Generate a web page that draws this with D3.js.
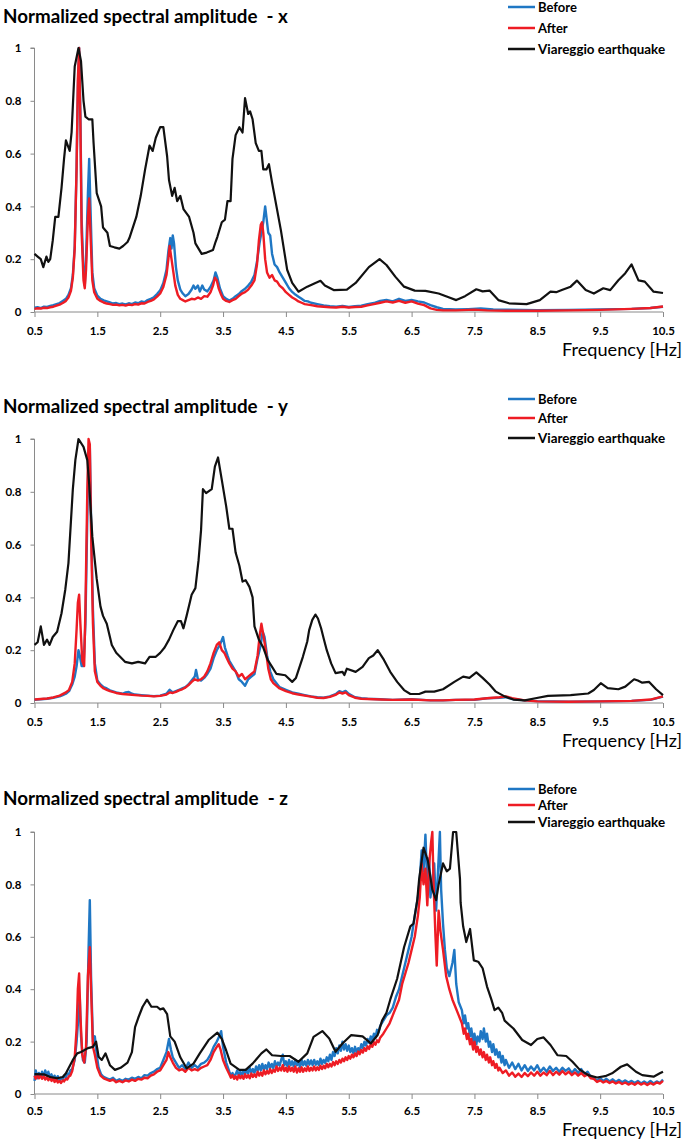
<!DOCTYPE html>
<html><head><meta charset="utf-8">
<script src="https://cdn.jsdelivr.net/npm/d3@7"></script>
<style>
html,body{margin:0;padding:0;background:#fff;}
svg{display:block;font-family:Lato,"Open Sans",sans-serif;}
</style></head>
<body><svg id="c" width="685" height="1143"></svg>
<script>
// ---------- data ----------
const xTickValues = [0.5,1.5,2.5,3.5,4.5,5.5,6.5,7.5,8.5,9.5,10.5];
const yTickValues = [0,0.2,0.4,0.6,0.8,1];
const seriesNames = ["Before","After","Viareggio earthquake"];
const panelTitles = ["Normalized spectral amplitude  - x","Normalized spectral amplitude  - y","Normalized spectral amplitude  - z"];
const axisTitle = "Frequency [Hz]";

const xBefore = [[0.5,0.016],[0.55,0.018],[0.6,0.015],[0.65,0.02],[0.7,0.019],[0.75,0.023],[0.8,0.026],[0.85,0.03],[0.9,0.034],[0.95,0.042],[1.0,0.05],[1.04,0.065],[1.08,0.09],[1.11,0.14],[1.14,0.25],[1.17,0.55],[1.19,0.85],[1.21,1.0],[1.23,0.75],[1.25,0.35],[1.28,0.15],[1.3,0.1],[1.32,0.2],[1.35,0.45],[1.37,0.58],[1.39,0.4],[1.42,0.15],[1.45,0.09],[1.5,0.062],[1.55,0.05],[1.6,0.044],[1.65,0.04],[1.7,0.036],[1.75,0.032],[1.8,0.034],[1.85,0.03],[1.9,0.032],[1.95,0.029],[2.0,0.033],[2.05,0.03],[2.1,0.036],[2.15,0.033],[2.2,0.04],[2.25,0.037],[2.3,0.045],[2.35,0.05],[2.4,0.056],[2.45,0.068],[2.5,0.082],[2.55,0.11],[2.6,0.16],[2.63,0.23],[2.66,0.28],[2.68,0.24],[2.7,0.29],[2.72,0.26],[2.75,0.17],[2.78,0.12],[2.82,0.085],[2.86,0.07],[2.9,0.06],[2.95,0.068],[3.0,0.085],[3.03,0.1],[3.06,0.088],[3.1,0.1],[3.13,0.078],[3.17,0.1],[3.2,0.085],[3.25,0.078],[3.3,0.095],[3.35,0.12],[3.38,0.15],[3.41,0.13],[3.45,0.09],[3.5,0.06],[3.55,0.05],[3.6,0.043],[3.65,0.05],[3.7,0.06],[3.75,0.068],[3.8,0.08],[3.85,0.088],[3.9,0.1],[3.95,0.115],[4.0,0.14],[4.04,0.19],[4.08,0.26],[4.11,0.3],[4.14,0.34],[4.17,0.4],[4.19,0.36],[4.22,0.3],[4.25,0.29],[4.28,0.22],[4.32,0.18],[4.36,0.17],[4.4,0.15],[4.45,0.13],[4.5,0.11],[4.55,0.09],[4.6,0.076],[4.65,0.066],[4.7,0.058],[4.75,0.05],[4.8,0.042],[4.85,0.04],[4.9,0.035],[5.0,0.03],[5.1,0.025],[5.2,0.022],[5.3,0.02],[5.4,0.023],[5.5,0.019],[5.6,0.022],[5.7,0.024],[5.8,0.03],[5.9,0.034],[6.0,0.042],[6.1,0.046],[6.2,0.04],[6.3,0.05],[6.4,0.042],[6.5,0.046],[6.6,0.04],[6.7,0.036],[6.8,0.026],[6.9,0.018],[7.0,0.012],[7.2,0.01],[7.4,0.011],[7.6,0.013],[7.8,0.01],[8.0,0.009],[8.5,0.007],[9.0,0.008],[9.5,0.01],[10.0,0.012],[10.3,0.015],[10.5,0.02]];
const xAfter = [[0.5,0.012],[0.55,0.014],[0.6,0.013],[0.65,0.016],[0.7,0.015],[0.75,0.018],[0.8,0.02],[0.85,0.024],[0.9,0.028],[0.95,0.034],[1.0,0.042],[1.04,0.055],[1.08,0.08],[1.11,0.13],[1.14,0.24],[1.17,0.55],[1.19,0.88],[1.21,1.0],[1.23,0.72],[1.25,0.3],[1.28,0.12],[1.3,0.09],[1.32,0.16],[1.35,0.36],[1.37,0.43],[1.39,0.3],[1.42,0.12],[1.45,0.075],[1.5,0.05],[1.55,0.042],[1.6,0.036],[1.65,0.032],[1.7,0.03],[1.75,0.027],[1.8,0.028],[1.85,0.025],[1.9,0.027],[1.95,0.024],[2.0,0.028],[2.05,0.026],[2.1,0.03],[2.15,0.028],[2.2,0.033],[2.25,0.032],[2.3,0.038],[2.35,0.042],[2.4,0.048],[2.45,0.058],[2.5,0.07],[2.55,0.095],[2.6,0.14],[2.63,0.2],[2.65,0.25],[2.68,0.2],[2.71,0.15],[2.74,0.1],[2.78,0.065],[2.82,0.05],[2.86,0.045],[2.9,0.04],[2.95,0.045],[3.0,0.05],[3.05,0.048],[3.1,0.055],[3.15,0.05],[3.2,0.06],[3.25,0.058],[3.3,0.075],[3.34,0.1],[3.37,0.13],[3.4,0.12],[3.43,0.09],[3.47,0.065],[3.5,0.05],[3.55,0.042],[3.6,0.038],[3.65,0.045],[3.7,0.05],[3.75,0.06],[3.8,0.07],[3.85,0.075],[3.9,0.085],[3.95,0.1],[4.0,0.12],[4.04,0.18],[4.07,0.27],[4.1,0.33],[4.12,0.34],[4.14,0.3],[4.17,0.2],[4.2,0.15],[4.24,0.13],[4.28,0.14],[4.32,0.12],[4.36,0.115],[4.4,0.1],[4.45,0.09],[4.5,0.075],[4.55,0.065],[4.6,0.055],[4.65,0.048],[4.7,0.04],[4.75,0.035],[4.8,0.03],[4.9,0.026],[5.0,0.022],[5.1,0.02],[5.2,0.018],[5.3,0.017],[5.4,0.02],[5.5,0.017],[5.6,0.019],[5.7,0.02],[5.8,0.025],[5.9,0.03],[6.0,0.035],[6.1,0.04],[6.2,0.036],[6.3,0.042],[6.4,0.035],[6.5,0.04],[6.6,0.032],[6.7,0.026],[6.8,0.014],[6.9,0.008],[7.0,0.006],[7.2,0.006],[7.5,0.009],[7.7,0.006],[8.0,0.005],[8.5,0.005],[9.0,0.006],[9.5,0.008],[10.0,0.012],[10.3,0.015],[10.5,0.021]];
const xQuake = [[0.5,0.22],[0.55,0.21],[0.6,0.2],[0.64,0.17],[0.69,0.21],[0.72,0.19],[0.75,0.2],[0.79,0.27],[0.83,0.36],[0.88,0.36],[0.93,0.47],[0.97,0.58],[1.0,0.65],[1.06,0.61],[1.09,0.68],[1.14,0.93],[1.2,1.0],[1.24,0.95],[1.28,0.8],[1.31,0.74],[1.36,0.73],[1.42,0.73],[1.44,0.64],[1.49,0.45],[1.56,0.4],[1.59,0.32],[1.66,0.3],[1.7,0.25],[1.77,0.245],[1.85,0.24],[1.91,0.25],[1.98,0.265],[2.01,0.28],[2.12,0.36],[2.19,0.44],[2.26,0.54],[2.33,0.63],[2.38,0.61],[2.43,0.66],[2.5,0.7],[2.55,0.7],[2.61,0.59],[2.64,0.5],[2.69,0.44],[2.73,0.47],[2.77,0.42],[2.82,0.44],[2.87,0.39],[2.96,0.36],[3.03,0.3],[3.06,0.26],[3.16,0.22],[3.24,0.225],[3.34,0.235],[3.38,0.265],[3.41,0.285],[3.48,0.34],[3.53,0.35],[3.57,0.42],[3.62,0.42],[3.65,0.58],[3.7,0.67],[3.76,0.7],[3.81,0.68],[3.85,0.81],[3.9,0.75],[3.93,0.76],[3.97,0.73],[4.02,0.64],[4.07,0.61],[4.11,0.61],[4.14,0.54],[4.19,0.54],[4.23,0.56],[4.28,0.49],[4.35,0.4],[4.42,0.31],[4.48,0.22],[4.52,0.16],[4.6,0.11],[4.7,0.077],[4.84,0.096],[4.97,0.11],[5.05,0.118],[5.12,0.1],[5.26,0.083],[5.47,0.085],[5.61,0.11],[5.82,0.17],[5.99,0.2],[6.1,0.178],[6.24,0.134],[6.38,0.096],[6.55,0.081],[6.72,0.08],[6.93,0.07],[7.1,0.055],[7.21,0.045],[7.35,0.06],[7.53,0.086],[7.63,0.078],[7.74,0.081],[7.88,0.045],[8.05,0.033],[8.33,0.03],[8.54,0.045],[8.71,0.077],[8.8,0.075],[8.89,0.083],[9.03,0.096],[9.13,0.119],[9.27,0.083],[9.4,0.07],[9.55,0.09],[9.66,0.083],[9.79,0.12],[9.9,0.147],[10.0,0.18],[10.11,0.12],[10.21,0.115],[10.35,0.077],[10.5,0.072]];

const yBefore = [[0.5,0.012],[0.6,0.014],[0.7,0.016],[0.8,0.02],[0.9,0.025],[0.95,0.03],[1.0,0.035],[1.05,0.045],[1.1,0.07],[1.14,0.1],[1.17,0.14],[1.2,0.2],[1.22,0.18],[1.25,0.14],[1.28,0.14],[1.31,0.3],[1.34,0.7],[1.36,0.95],[1.38,0.97],[1.4,0.7],[1.43,0.35],[1.46,0.15],[1.5,0.085],[1.55,0.07],[1.6,0.06],[1.65,0.055],[1.7,0.048],[1.8,0.04],[1.9,0.035],[1.95,0.04],[2.0,0.042],[2.05,0.035],[2.1,0.032],[2.2,0.03],[2.3,0.028],[2.4,0.026],[2.5,0.028],[2.6,0.035],[2.65,0.05],[2.7,0.04],[2.75,0.045],[2.8,0.05],[2.85,0.055],[2.9,0.06],[2.95,0.07],[3.0,0.085],[3.05,0.1],[3.07,0.125],[3.1,0.09],[3.15,0.085],[3.2,0.095],[3.25,0.11],[3.3,0.13],[3.35,0.17],[3.4,0.2],[3.45,0.22],[3.5,0.25],[3.53,0.21],[3.57,0.18],[3.6,0.16],[3.65,0.14],[3.7,0.12],[3.75,0.09],[3.8,0.08],[3.85,0.065],[3.9,0.09],[3.95,0.1],[4.0,0.11],[4.05,0.17],[4.1,0.22],[4.13,0.27],[4.16,0.25],[4.2,0.18],[4.25,0.12],[4.3,0.09],[4.35,0.075],[4.4,0.06],[4.5,0.05],[4.6,0.04],[4.7,0.035],[4.8,0.03],[4.9,0.025],[5.0,0.022],[5.1,0.02],[5.2,0.025],[5.3,0.035],[5.35,0.045],[5.4,0.04],[5.45,0.046],[5.5,0.035],[5.6,0.022],[5.7,0.018],[5.8,0.016],[6.0,0.014],[6.2,0.012],[6.5,0.014],[6.8,0.01],[7.0,0.01],[7.2,0.012],[7.5,0.012],[7.7,0.018],[7.9,0.02],[8.0,0.022],[8.1,0.015],[8.3,0.01],[8.5,0.007],[9.0,0.005],[9.5,0.006],[10.0,0.008],[10.3,0.012],[10.5,0.024]];
const yAfter = [[0.5,0.013],[0.6,0.015],[0.7,0.017],[0.8,0.021],[0.9,0.028],[1.0,0.04],[1.05,0.05],[1.1,0.08],[1.14,0.15],[1.17,0.28],[1.19,0.38],[1.21,0.41],[1.23,0.3],[1.26,0.16],[1.29,0.14],[1.31,0.35],[1.34,0.8],[1.36,1.0],[1.38,0.98],[1.4,0.65],[1.43,0.3],[1.46,0.12],[1.5,0.08],[1.55,0.065],[1.6,0.055],[1.65,0.05],[1.7,0.045],[1.8,0.038],[1.9,0.034],[2.0,0.032],[2.1,0.03],[2.2,0.028],[2.3,0.027],[2.4,0.025],[2.5,0.027],[2.6,0.032],[2.65,0.04],[2.7,0.038],[2.75,0.042],[2.8,0.048],[2.85,0.052],[2.9,0.058],[2.95,0.068],[3.0,0.08],[3.05,0.09],[3.1,0.085],[3.15,0.09],[3.2,0.1],[3.25,0.12],[3.3,0.15],[3.35,0.19],[3.4,0.22],[3.44,0.23],[3.48,0.2],[3.52,0.19],[3.56,0.17],[3.6,0.15],[3.65,0.13],[3.7,0.12],[3.75,0.1],[3.8,0.11],[3.85,0.09],[3.9,0.1],[3.95,0.11],[4.0,0.12],[4.05,0.18],[4.08,0.25],[4.11,0.3],[4.14,0.26],[4.18,0.2],[4.22,0.13],[4.26,0.09],[4.3,0.075],[4.35,0.065],[4.4,0.055],[4.5,0.045],[4.6,0.037],[4.7,0.032],[4.8,0.028],[4.9,0.024],[5.0,0.02],[5.1,0.019],[5.2,0.023],[5.3,0.032],[5.35,0.04],[5.4,0.036],[5.45,0.04],[5.5,0.03],[5.6,0.02],[5.7,0.016],[5.8,0.015],[6.0,0.013],[6.2,0.012],[6.5,0.013],[6.8,0.01],[7.0,0.01],[7.2,0.012],[7.5,0.013],[7.7,0.018],[7.9,0.022],[8.0,0.025],[8.1,0.018],[8.3,0.01],[8.5,0.006],[9.0,0.005],[9.5,0.006],[10.0,0.008],[10.3,0.013],[10.5,0.025]];
const yQuake = [[0.5,0.22],[0.55,0.23],[0.6,0.29],[0.65,0.22],[0.7,0.24],[0.74,0.22],[0.79,0.25],[0.86,0.27],[0.93,0.34],[0.99,0.43],[1.04,0.53],[1.08,0.69],[1.11,0.81],[1.15,0.92],[1.2,1.0],[1.28,0.97],[1.34,0.92],[1.37,0.83],[1.42,0.63],[1.49,0.47],[1.55,0.365],[1.59,0.33],[1.65,0.3],[1.7,0.25],[1.73,0.22],[1.8,0.19],[1.94,0.156],[2.05,0.15],[2.15,0.156],[2.26,0.15],[2.33,0.175],[2.43,0.175],[2.5,0.19],[2.57,0.21],[2.64,0.24],[2.71,0.277],[2.78,0.31],[2.83,0.31],[2.87,0.283],[2.92,0.33],[2.97,0.38],[3.0,0.41],[3.06,0.435],[3.11,0.54],[3.15,0.655],[3.18,0.81],[3.23,0.795],[3.32,0.81],[3.37,0.895],[3.42,0.93],[3.48,0.845],[3.55,0.745],[3.6,0.66],[3.65,0.66],[3.7,0.57],[3.76,0.52],[3.81,0.46],[3.86,0.465],[3.92,0.44],[3.97,0.4],[4.0,0.29],[4.07,0.24],[4.14,0.21],[4.21,0.163],[4.28,0.137],[4.35,0.11],[4.49,0.105],[4.6,0.08],[4.66,0.095],[4.77,0.175],[4.84,0.233],[4.87,0.276],[4.92,0.315],[4.97,0.335],[5.01,0.32],[5.06,0.283],[5.1,0.245],[5.15,0.2],[5.22,0.15],[5.29,0.113],[5.4,0.118],[5.43,0.106],[5.47,0.13],[5.61,0.118],[5.72,0.137],[5.82,0.17],[5.89,0.18],[5.96,0.2],[6.06,0.163],[6.16,0.118],[6.27,0.08],[6.38,0.049],[6.48,0.034],[6.62,0.034],[6.72,0.043],[6.86,0.043],[7.0,0.052],[7.18,0.08],[7.32,0.1],[7.42,0.095],[7.53,0.116],[7.63,0.095],[7.74,0.07],[7.84,0.043],[7.98,0.025],[8.12,0.013],[8.3,0.01],[8.47,0.018],[8.67,0.027],[9.03,0.03],[9.31,0.036],[9.4,0.049],[9.51,0.075],[9.62,0.056],[9.79,0.052],[9.9,0.062],[10.04,0.09],[10.1,0.085],[10.17,0.077],[10.28,0.08],[10.39,0.052],[10.5,0.03]];

const zBefore = [[0.5,0.05],[0.52,0.09],[0.55,0.06],[0.57,0.08],[0.6,0.065],[0.62,0.085],[0.65,0.065],[0.67,0.09],[0.7,0.068],[0.72,0.085],[0.75,0.06],[0.77,0.075],[0.8,0.055],[0.82,0.07],[0.85,0.055],[0.87,0.068],[0.9,0.05],[0.92,0.062],[0.95,0.055],[0.97,0.07],[1.0,0.062],[1.02,0.078],[1.05,0.075],[1.07,0.09],[1.1,0.095],[1.14,0.13],[1.17,0.2],[1.2,0.3],[1.22,0.37],[1.24,0.22],[1.27,0.13],[1.3,0.12],[1.33,0.2],[1.36,0.55],[1.38,0.74],[1.4,0.45],[1.43,0.2],[1.46,0.22],[1.49,0.15],[1.52,0.1],[1.56,0.075],[1.6,0.065],[1.65,0.06],[1.7,0.055],[1.75,0.062],[1.8,0.05],[1.85,0.056],[1.9,0.05],[1.95,0.058],[2.0,0.055],[2.05,0.062],[2.1,0.058],[2.15,0.065],[2.2,0.06],[2.25,0.072],[2.3,0.07],[2.35,0.08],[2.4,0.085],[2.45,0.095],[2.5,0.1],[2.55,0.13],[2.6,0.16],[2.64,0.21],[2.67,0.17],[2.7,0.14],[2.75,0.12],[2.8,0.1],[2.85,0.11],[2.9,0.095],[2.95,0.12],[3.0,0.1],[3.05,0.11],[3.1,0.1],[3.15,0.115],[3.2,0.12],[3.25,0.13],[3.3,0.15],[3.35,0.18],[3.4,0.2],[3.44,0.22],[3.47,0.24],[3.5,0.18],[3.55,0.12],[3.6,0.085],[3.625,0.07],[3.65,0.08],[3.675,0.065],[3.7,0.075],[3.725,0.09],[3.75,0.07],[3.775,0.085],[3.8,0.068],[3.825,0.09],[3.85,0.075],[3.875,0.095],[3.9,0.078],[3.925,0.1],[3.95,0.082],[3.975,0.095],[4.0,0.08],[4.025,0.105],[4.05,0.088],[4.075,0.11],[4.1,0.09],[4.125,0.115],[4.15,0.092],[4.175,0.11],[4.2,0.095],[4.225,0.12],[4.25,0.1],[4.275,0.115],[4.3,0.098],[4.325,0.125],[4.35,0.105],[4.375,0.12],[4.4,0.108],[4.425,0.13],[4.45,0.15],[4.475,0.11],[4.5,0.125],[4.525,0.105],[4.55,0.13],[4.575,0.11],[4.6,0.125],[4.625,0.105],[4.65,0.13],[4.675,0.11],[4.7,0.125],[4.725,0.1],[4.75,0.13],[4.775,0.11],[4.8,0.125],[4.825,0.108],[4.85,0.13],[4.875,0.112],[4.9,0.128],[4.925,0.11],[4.95,0.13],[4.975,0.112],[5.0,0.125],[5.025,0.11],[5.05,0.135],[5.075,0.115],[5.1,0.13],[5.125,0.118],[5.15,0.14],[5.175,0.125],[5.2,0.15],[5.225,0.13],[5.25,0.16],[5.275,0.145],[5.3,0.175],[5.325,0.155],[5.35,0.185],[5.375,0.165],[5.4,0.2],[5.425,0.17],[5.45,0.19],[5.475,0.165],[5.5,0.185],[5.525,0.16],[5.55,0.175],[5.575,0.155],[5.6,0.18],[5.625,0.16],[5.65,0.175],[5.675,0.165],[5.7,0.19],[5.725,0.175],[5.75,0.2],[5.775,0.185],[5.8,0.21],[5.825,0.195],[5.85,0.22],[5.875,0.205],[5.9,0.23],[5.925,0.215],[5.95,0.245],[5.975,0.235],[6.0,0.26],[6.05,0.28],[6.1,0.3],[6.15,0.31],[6.2,0.33],[6.25,0.37],[6.3,0.4],[6.35,0.45],[6.4,0.5],[6.45,0.55],[6.5,0.6],[6.55,0.68],[6.6,0.75],[6.63,0.82],[6.66,0.93],[6.69,0.85],[6.72,0.99],[6.75,0.8],[6.78,0.9],[6.8,0.75],[6.83,0.82],[6.86,0.88],[6.89,0.7],[6.92,0.85],[6.95,1.0],[6.97,0.78],[7.0,0.65],[7.03,0.55],[7.06,0.48],[7.1,0.45],[7.15,0.5],[7.18,0.55],[7.21,0.42],[7.25,0.35],[7.3,0.32],[7.33,0.27],[7.35,0.3],[7.38,0.25],[7.4,0.27],[7.43,0.22],[7.45,0.25],[7.48,0.2],[7.5,0.23],[7.53,0.19],[7.55,0.22],[7.58,0.2],[7.6,0.24],[7.63,0.21],[7.65,0.25],[7.68,0.2],[7.7,0.23],[7.73,0.18],[7.75,0.2],[7.78,0.16],[7.8,0.19],[7.83,0.15],[7.85,0.17],[7.88,0.14],[7.9,0.16],[7.93,0.12],[7.95,0.145],[7.98,0.11],[8.0,0.13],[8.05,0.1],[8.1,0.12],[8.15,0.095],[8.2,0.115],[8.25,0.09],[8.3,0.11],[8.35,0.088],[8.4,0.105],[8.45,0.09],[8.5,0.11],[8.55,0.085],[8.6,0.1],[8.65,0.085],[8.7,0.105],[8.75,0.088],[8.8,0.1],[8.85,0.085],[8.9,0.1],[8.95,0.088],[9.0,0.098],[9.05,0.08],[9.1,0.095],[9.15,0.08],[9.2,0.095],[9.25,0.075],[9.3,0.085],[9.35,0.065],[9.4,0.06],[9.45,0.052],[9.5,0.06],[9.55,0.05],[9.6,0.058],[9.65,0.048],[9.7,0.056],[9.75,0.046],[9.8,0.054],[9.85,0.045],[9.9,0.052],[9.95,0.044],[10.0,0.05],[10.05,0.042],[10.1,0.05],[10.15,0.04],[10.2,0.048],[10.25,0.04],[10.3,0.05],[10.35,0.04],[10.4,0.048],[10.45,0.042],[10.5,0.055]];
const zAfter = [[0.5,0.07],[0.52,0.058],[0.55,0.072],[0.57,0.06],[0.6,0.07],[0.62,0.058],[0.65,0.068],[0.67,0.055],[0.7,0.065],[0.72,0.052],[0.75,0.062],[0.77,0.05],[0.8,0.058],[0.82,0.046],[0.85,0.055],[0.87,0.044],[0.9,0.05],[0.92,0.042],[0.95,0.052],[0.97,0.048],[1.0,0.058],[1.02,0.055],[1.05,0.068],[1.07,0.07],[1.1,0.088],[1.14,0.14],[1.17,0.25],[1.19,0.4],[1.21,0.46],[1.23,0.3],[1.26,0.15],[1.29,0.12],[1.32,0.18],[1.35,0.45],[1.38,0.56],[1.4,0.4],[1.43,0.18],[1.46,0.15],[1.5,0.1],[1.55,0.07],[1.6,0.06],[1.65,0.055],[1.7,0.05],[1.75,0.055],[1.8,0.045],[1.85,0.05],[1.9,0.045],[1.95,0.052],[2.0,0.048],[2.05,0.055],[2.1,0.05],[2.15,0.058],[2.2,0.055],[2.25,0.062],[2.3,0.06],[2.35,0.07],[2.4,0.075],[2.45,0.085],[2.5,0.09],[2.55,0.11],[2.6,0.13],[2.63,0.16],[2.66,0.14],[2.7,0.12],[2.75,0.1],[2.8,0.09],[2.85,0.095],[2.9,0.085],[2.95,0.1],[3.0,0.09],[3.05,0.095],[3.1,0.09],[3.15,0.1],[3.2,0.105],[3.25,0.11],[3.3,0.13],[3.35,0.16],[3.4,0.18],[3.43,0.19],[3.46,0.17],[3.5,0.13],[3.55,0.1],[3.6,0.075],[3.625,0.062],[3.65,0.072],[3.675,0.058],[3.7,0.068],[3.725,0.055],[3.75,0.072],[3.775,0.06],[3.8,0.07],[3.825,0.058],[3.85,0.075],[3.875,0.062],[3.9,0.072],[3.925,0.06],[3.95,0.078],[3.975,0.065],[4.0,0.075],[4.025,0.065],[4.05,0.085],[4.075,0.07],[4.1,0.082],[4.125,0.07],[4.15,0.09],[4.175,0.075],[4.2,0.088],[4.225,0.078],[4.25,0.095],[4.275,0.08],[4.3,0.092],[4.325,0.085],[4.35,0.105],[4.375,0.088],[4.4,0.1],[4.425,0.09],[4.45,0.11],[4.475,0.088],[4.5,0.1],[4.525,0.085],[4.55,0.105],[4.575,0.088],[4.6,0.1],[4.625,0.085],[4.65,0.105],[4.675,0.082],[4.7,0.098],[4.725,0.085],[4.75,0.102],[4.775,0.085],[4.8,0.098],[4.825,0.088],[4.85,0.105],[4.875,0.088],[4.9,0.1],[4.925,0.09],[4.95,0.105],[4.975,0.09],[5.0,0.102],[5.025,0.092],[5.05,0.108],[5.075,0.095],[5.1,0.108],[5.125,0.098],[5.15,0.115],[5.175,0.102],[5.2,0.115],[5.225,0.105],[5.25,0.122],[5.275,0.11],[5.3,0.125],[5.325,0.115],[5.35,0.13],[5.375,0.12],[5.4,0.135],[5.425,0.125],[5.45,0.14],[5.475,0.13],[5.5,0.145],[5.525,0.135],[5.55,0.15],[5.575,0.14],[5.6,0.155],[5.625,0.145],[5.65,0.162],[5.675,0.152],[5.7,0.168],[5.725,0.158],[5.75,0.175],[5.775,0.165],[5.8,0.182],[5.825,0.172],[5.85,0.19],[5.875,0.18],[5.9,0.198],[5.925,0.188],[5.95,0.205],[5.975,0.198],[6.0,0.215],[6.05,0.23],[6.1,0.25],[6.15,0.27],[6.2,0.3],[6.25,0.33],[6.3,0.36],[6.35,0.42],[6.4,0.46],[6.45,0.5],[6.5,0.55],[6.55,0.6],[6.6,0.68],[6.63,0.75],[6.66,0.88],[6.69,0.8],[6.72,0.86],[6.75,0.72],[6.78,0.88],[6.81,0.96],[6.83,1.0],[6.85,0.8],[6.88,0.6],[6.9,0.49],[6.93,0.7],[6.96,0.62],[7.0,0.55],[7.05,0.45],[7.1,0.4],[7.15,0.36],[7.2,0.33],[7.25,0.3],[7.3,0.27],[7.33,0.23],[7.35,0.25],[7.38,0.21],[7.4,0.23],[7.43,0.19],[7.45,0.21],[7.48,0.17],[7.5,0.2],[7.53,0.16],[7.55,0.18],[7.58,0.15],[7.6,0.17],[7.63,0.14],[7.65,0.16],[7.68,0.13],[7.7,0.15],[7.73,0.12],[7.75,0.14],[7.78,0.11],[7.8,0.125],[7.83,0.1],[7.85,0.115],[7.88,0.09],[7.9,0.1],[7.95,0.08],[8.0,0.09],[8.05,0.07],[8.1,0.082],[8.15,0.066],[8.2,0.078],[8.25,0.065],[8.3,0.08],[8.35,0.068],[8.4,0.082],[8.45,0.07],[8.5,0.085],[8.55,0.07],[8.6,0.082],[8.65,0.072],[8.7,0.088],[8.75,0.072],[8.8,0.085],[8.85,0.074],[8.9,0.088],[8.95,0.075],[9.0,0.085],[9.05,0.072],[9.1,0.082],[9.15,0.07],[9.2,0.08],[9.25,0.068],[9.3,0.075],[9.35,0.06],[9.4,0.058],[9.45,0.046],[9.5,0.052],[9.55,0.044],[9.6,0.05],[9.65,0.042],[9.7,0.048],[9.75,0.04],[9.8,0.046],[9.85,0.038],[9.9,0.044],[9.95,0.036],[10.0,0.042],[10.05,0.035],[10.1,0.044],[10.15,0.036],[10.2,0.042],[10.25,0.034],[10.3,0.042],[10.35,0.036],[10.4,0.044],[10.45,0.04],[10.5,0.05]];
const zQuake = [[0.5,0.076],[0.65,0.075],[0.75,0.065],[0.86,0.06],[0.95,0.065],[1.0,0.079],[1.11,0.13],[1.18,0.155],[1.24,0.16],[1.35,0.175],[1.43,0.18],[1.48,0.2],[1.52,0.142],[1.57,0.13],[1.63,0.155],[1.7,0.11],[1.78,0.092],[1.87,0.1],[1.98,0.12],[2.05,0.16],[2.1,0.255],[2.15,0.29],[2.22,0.333],[2.29,0.36],[2.36,0.333],[2.45,0.333],[2.5,0.323],[2.55,0.327],[2.61,0.305],[2.66,0.22],[2.73,0.2],[2.82,0.14],[2.92,0.098],[3.03,0.116],[3.13,0.155],[3.27,0.206],[3.41,0.234],[3.48,0.21],[3.55,0.166],[3.62,0.116],[3.76,0.092],[3.86,0.092],[3.97,0.116],[4.11,0.155],[4.19,0.17],[4.28,0.148],[4.42,0.145],[4.56,0.145],[4.7,0.123],[4.84,0.155],[4.94,0.218],[5.08,0.24],[5.19,0.212],[5.29,0.161],[5.4,0.193],[5.54,0.225],[5.72,0.22],[5.85,0.193],[5.96,0.225],[6.03,0.28],[6.1,0.31],[6.16,0.36],[6.27,0.44],[6.38,0.56],[6.48,0.64],[6.53,0.65],[6.59,0.74],[6.62,0.82],[6.69,0.94],[6.76,0.89],[6.83,0.78],[6.89,0.74],[6.93,0.8],[7.0,0.88],[7.06,0.85],[7.11,0.86],[7.16,1.0],[7.21,1.0],[7.27,0.82],[7.28,0.73],[7.32,0.64],[7.37,0.58],[7.43,0.63],[7.49,0.51],[7.56,0.505],[7.63,0.48],[7.7,0.41],[7.77,0.36],[7.82,0.32],[7.88,0.33],[7.94,0.31],[7.98,0.28],[8.12,0.25],[8.26,0.206],[8.4,0.187],[8.5,0.21],[8.6,0.216],[8.71,0.187],[8.82,0.148],[8.96,0.145],[9.06,0.123],[9.17,0.094],[9.31,0.072],[9.45,0.063],[9.58,0.068],[9.69,0.079],[9.83,0.104],[9.93,0.113],[10.07,0.085],[10.17,0.072],[10.35,0.066],[10.45,0.079],[10.5,0.085]];

// ---------- layout ----------
const colors = ["#1f77c4","#ee1c24","#111111"];
const widths = [2.4,2.4,2.2];
const panels = [
  {title:panelTitles[0], series:[xBefore,xAfter,xQuake], top:48, bottom:312, titleY:16, legY:[7,28,49], labY:331, freqY:350},
  {title:panelTitles[1], series:[yBefore,yAfter,yQuake], top:439, bottom:703, titleY:406, legY:[399,418,438], labY:722, freqY:741},
  {title:panelTitles[2], series:[zBefore,zAfter,zQuake], top:832, bottom:1094, titleY:798, legY:[789,805,822], labY:1111, freqY:1130}
];
const left = 34.5, right = 663;
const svg = d3.select("#c");
const axisColor = "#8a8a8a";

function fitText(sel, targetW){
  const w = sel.node().getComputedTextLength();
  const fs = parseFloat(sel.attr("font-size"));
  sel.attr("font-size", (fs*targetW/w).toFixed(2));
}

panels.forEach(p=>{
  const g = svg.append("g");
  const x = d3.scaleLinear().domain([0.5,10.5]).range([left,right]);
  const y = d3.scaleLinear().domain([0,1]).range([p.bottom,p.top]);

  const t = g.append("text").attr("x",3).attr("y",p.titleY).attr("dy","0.35em")
    .attr("font-size",17).attr("font-weight","bold").attr("fill","#000")
    .style("white-space","pre").attr("xml:space","preserve").text(p.title);
  fitText(t, 285);

  const ya = d3.axisLeft(y).tickValues(yTickValues).tickSize(4).tickPadding(9).tickFormat(d3.format("~g"));
  const yg = g.append("g").attr("transform",`translate(${left},0)`).call(ya);
  const xa = d3.axisBottom(x).tickValues(xTickValues).tickSize(5).tickPadding(6).tickFormat(d3.format("~g"));
  const xg = g.append("g").attr("transform",`translate(0,${p.bottom})`).call(xa);
  [yg,xg].forEach(a=>{
    a.select(".domain").attr("stroke",axisColor).attr("stroke-width",1);
    a.selectAll(".tick line").attr("stroke",axisColor);
    a.selectAll("text").attr("font-family","Lato, sans-serif").attr("font-weight","bold").attr("font-size",11.5).attr("fill","#000");
  });
  yg.select(".domain").attr("d",`M-4,${p.top}H0V${p.bottom}`);
  xg.select(".domain").attr("d",`M${left},0H${right}`);
  xg.selectAll(".tick text").attr("y",p.labY-p.bottom).attr("dy","0.35em");

  const ft = g.append("text").attr("x",682).attr("y",p.freqY).attr("dy","0.35em")
    .attr("text-anchor","end").attr("font-size",17).attr("fill","#000").text(axisTitle);
  fitText(ft, 120);

  const line = d3.line().x(d=>x(d[0])).y(d=>y(d[1]));
  p.series.forEach((s,i)=>{
    g.append("path").datum(s).attr("d",line).attr("fill","none")
      .attr("stroke",colors[i]).attr("stroke-width",widths[i]).attr("stroke-linejoin","round");
  });

  seriesNames.forEach((n,i)=>{
    g.append("line").attr("x1",508).attr("x2",535).attr("y1",p.legY[i]).attr("y2",p.legY[i])
      .attr("stroke",colors[i]).attr("stroke-width",2.5);
    const lt = g.append("text").attr("x",538).attr("y",p.legY[i]).attr("dy","0.35em")
      .attr("font-size",13).attr("font-weight","bold").attr("fill","#000").text(n);
    if(i===2) fitText(lt,127);
  });
});
</script></body></html>
